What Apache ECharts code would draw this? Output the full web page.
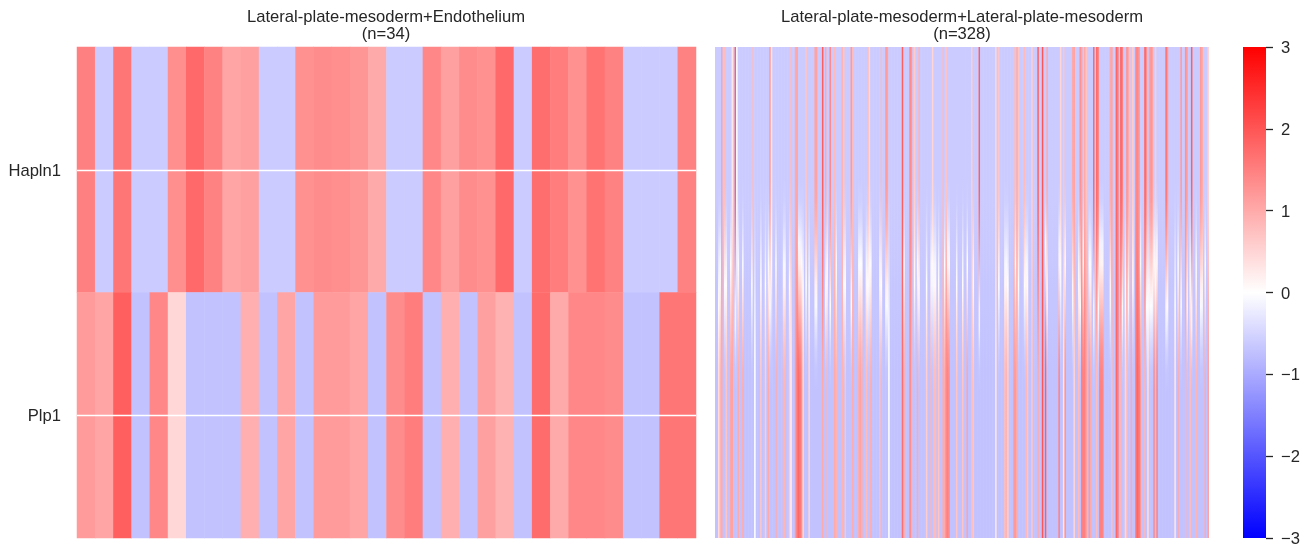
<!DOCTYPE html>
<html><head><meta charset="utf-8">
<style>html,body{margin:0;padding:0;background:#fff}#c{width:1307px;height:557px}</style>
<script src="https://cdn.jsdelivr.net/npm/echarts@6/dist/echarts.min.js"></script>
</head><body><div id="c"></div>
<script>
const genes = ['Hapln1','Plp1'];
const leftTitle = 'Lateral-plate-mesoderm+Endothelium\n(n=34)';
const rightTitle = 'Lateral-plate-mesoderm+Lateral-plate-mesoderm\n(n=328)';
const colorbarTicks = [-3,-2,-1,0,1,2,3];
const leftHapln1 = [1.49,-0.61,1.61,-0.61,-0.61,1.32,1.76,1.47,1.06,1.12,-0.61,-0.61,1.29,1.35,1.33,1.24,1.0,-0.61,-0.61,1.41,1.12,1.35,1.29,1.76,-0.61,1.71,1.53,1.29,1.65,1.47,-0.61,-0.61,-0.61,1.47];
const leftPlp1 = [1.18,1.06,1.88,-0.72,1.41,0.47,-0.72,-0.72,-0.72,0.94,-0.72,1.06,-0.72,1.18,1.18,1.06,-0.72,1.35,1.53,-0.72,0.94,-0.72,1.12,0.91,-0.72,1.73,1.0,1.41,1.41,1.35,-0.72,-0.72,1.61,1.61];
const a = -0.61;
const rightHapln1 = [
a,a,a,a,1.1,a,0.8,a,a,a,
a,0.3,a,1.9,0.0,a,a,a,a,a,
a,a,a,a,0.8,a,a,a,a,a,
a,a,a,a,a,a,1.2,0.3,a,a,
a,a,a,a,a,a,a,a,a,a,
0.8,a,a,1.0,1.1,a,a,a,a,a,
0.7,a,a,a,a,a,1.1,1.1,a,a,
a,1.9,a,1.0,a,a,1.4,a,a,0.8,
a,a,a,a,0.9,0.7,a,a,a,a,
1.2,0.8,a,a,a,a,a,a,a,a,
a,0.8,0.5,a,a,a,a,a,a,a,
0.8,a,a,1.2,1.1,a,a,a,a,a,
a,a,a,a,1.9,a,a,a,a,1.4,
1.2,a,0.6,a,a,0.9,a,a,a,a,
a,a,a,a,0.5,a,a,a,a,a,
a,0.8,a,0.7,a,a,a,a,a,a,
a,a,a,a,a,a,a,a,a,a,
0.6,a,a,a,a,1.9,a,a,a,a,
a,a,a,a,a,a,0.5,a,0.7,a,
a,a,a,a,a,a,a,a,0.8,a,
1.0,0.7,a,a,a,0.8,a,a,a,a,
0.6,a,a,a,1.9,a,a,2.0,a,a,
1.0,a,a,a,a,a,a,a,a,0.5,
a,0.7,a,a,a,a,a,1.0,1.1,a,
a,a,1.3,1.1,a,1.0,0.7,a,a,a,
a,1.8,a,1.8,1.4,a,a,a,a,a,
a,a,1.0,1.1,a,a,1.8,1.6,a,1.9,
1.5,a,a,1.3,1.0,a,0.8,0.6,a,1.4,
1.4,1.3,a,a,a,1.9,1.3,a,1.1,1.3,
1.1,a,0.6,a,a,a,a,a,a,1.7,
1.2,a,a,a,a,a,a,a,a,1.2,
a,a,1.3,1.1,a,a,1.9,a,a,a,
a,a,1.2,1.0,a,a,a,0.5];
const b = -0.72;
const rightPlp1 = [
b,b,0.4,0.9,1.0,b,b,0.7,b,b,
1.1,1.1,b,b,b,1.0,b,b,1.0,b,
b,b,b,b,b,b,0.0,b,b,b,
0.7,b,b,0.6,b,1.0,b,b,b,b,
1.0,b,b,b,b,0.9,0.9,b,b,0.6,
0.2,b,b,1.2,1.6,1.8,1.6,1.3,0.5,b,
b,b,0.5,b,b,b,b,b,b,b,
b,1.0,b,b,0.9,b,b,b,b,1.0,
0.9,b,b,b,0.9,b,0.7,b,b,b,
b,1.0,b,b,b,1.0,1.1,1.0,b,b,
0.8,b,b,1.0,b,b,b,b,b,0.8,
b,b,b,b,b,0.0,b,b,b,b,
b,b,b,b,1.7,1.0,b,b,b,1.4,
1.0,b,b,b,1.0,b,b,b,b,b,
0.6,b,b,0.9,b,0.8,0.8,b,0.7,b,
b,1.0,1.0,1.4,1.5,1.3,b,b,b,b,
0.7,b,b,b,0.7,b,b,1.1,b,b,
0.8,0.7,b,b,b,b,b,b,b,b,
b,b,b,b,b,b,0.3,b,b,b,
b,b,0.8,0.9,0.6,b,b,b,1.2,1.2,
1.0,b,b,b,b,b,0.9,0.7,b,b,
0.7,b,b,b,1.0,b,b,2.0,b,1.9,
b,b,b,b,b,b,b,b,1.5,b,
b,0.3,1.3,b,b,b,b,b,0.5,b,
b,0.8,b,1.5,1.5,1.5,1.1,b,1.2,1.0,
b,b,b,0.8,b,1.5,1.5,1.5,b,b,
b,b,b,0.8,b,b,1.8,1.6,b,0.9,
b,b,0.5,0.8,b,b,1.0,b,b,1.6,
1.8,1.7,1.2,b,b,0.9,b,0.4,b,b,
b,1.4,b,1.5,b,b,b,b,b,b,
b,b,b,b,b,0.3,b,1.0,b,b,
b,b,0.9,b,b,0.8,b,b,b,0.9,
b,b,b,b,b,1.0,b,1.1];

function bwr(v){
  const t = Math.max(-1,Math.min(1,v/3));
  if(t>=0){const g=Math.round(255*(1-t));return `rgb(255,${g},${g})`;}
  const g=Math.round(255*(1+t));return `rgb(${g},${g},255)`;
}
// Vertical blend between the two rows of a column, in value space so that blue-to-red passes through white.
const blendStart = 0.27, blendEnd = 0.70, blendSteps = 10;
function blendStops(top,bottom){
  const stops=[{offset:0,color:bwr(top)}];
  for(let i=0;i<=blendSteps;i++){
    const u=i/blendSteps, s=u*u*(3-2*u);
    stops.push({offset:blendStart+(blendEnd-blendStart)*u,color:bwr(top+(bottom-top)*s)});
  }
  stops.push({offset:1,color:bwr(bottom)});
  return stops;
}
const font = '"Liberation Sans", Arial, sans-serif';
const ink = '#262626';
const leftData = [];
leftHapln1.forEach((v,i)=>leftData.push([i,0,v]));
leftPlp1.forEach((v,i)=>leftData.push([i,1,v]));
const rightData = rightHapln1.map((v,i)=>[i,v,rightPlp1[i]]);
const columns = leftHapln1.map((_,i)=>String(i+1));
const titleStyle = {fontFamily:font,fontSize:16.6,fontWeight:'normal',color:ink,lineHeight:17};

const chart = echarts.init(document.getElementById('c'),null,{renderer:'canvas'});
chart.setOption({
  animation:false,
  backgroundColor:'#fff',
  title:[
    {text:leftTitle,left:381,top:4,textAlign:'center',textStyle:titleStyle},
    {text:rightTitle,left:957,top:4,textAlign:'center',textStyle:titleStyle}
  ],
  grid:[
    {left:77,top:47,width:619,height:491},
    {left:715,top:47,width:494,height:491},
    {left:1243,top:47,width:23,height:491}
  ],
  xAxis:[
    {gridIndex:0,type:'category',data:columns,show:false},
    {gridIndex:1,type:'value',min:0,max:328,show:false},
    {gridIndex:2,type:'value',min:0,max:1,show:false}
  ],
  yAxis:[
    {gridIndex:0,type:'category',data:genes,inverse:true,axisLine:{show:false},axisTick:{show:false},splitLine:{show:false},
     axisLabel:{fontFamily:font,fontSize:16.6,color:ink,margin:16,verticalAlign:'top',lineHeight:3}},
    {gridIndex:1,type:'value',min:0,max:2,inverse:true,show:false},
    {gridIndex:2,type:'value',min:-3,max:3,interval:1,position:'right',axisLine:{show:false,onZero:false},splitLine:{show:false},
     axisTick:{show:true,length:7,lineStyle:{color:ink,width:1.3}},
     axisLabel:{fontFamily:font,fontSize:16.6,color:ink,margin:15,verticalAlign:'top',lineHeight:3,formatter:v=>colorbarTicks.includes(v)?String(v).replace('-','\u2212'):''}}
  ],
  visualMap:{show:false,type:'continuous',min:-3,max:3,seriesIndex:0,dimension:2,inRange:{color:['#0000ff','#ffffff','#ff0000']}},
  series:[
    {type:'heatmap',xAxisIndex:0,yAxisIndex:0,data:leftData,silent:true,
     markLine:{silent:true,symbol:'none',label:{show:false},animation:false,lineStyle:{color:'#fff',width:1.3,type:'solid'},
       data:[{yAxis:'Hapln1'},{yAxis:'Plp1'}]}},
    {type:'custom',xAxisIndex:1,yAxisIndex:1,data:rightData,silent:true,clip:true,
     encode:{x:0,y:[1,2]},
     renderItem(params,api){
       const c=api.value(0);
       const s=api.coord([c,0]), e=api.coord([c+1,2]);
       return {type:'rect',shape:{x:s[0],y:s[1],width:e[0]-s[0]+0.6,height:e[1]-s[1]},
         style:{fill:new echarts.graphic.LinearGradient(0,0,0,1,blendStops(api.value(1),api.value(2)))}};
     }},
    {type:'custom',xAxisIndex:2,yAxisIndex:2,data:[[0,3,-3]],silent:true,
     encode:{x:0,y:[1,2]},
     renderItem(params,api){
       const s=api.coord([0,api.value(1)]), e=api.coord([1,api.value(2)]);
       return {type:'rect',shape:{x:s[0],y:s[1],width:e[0]-s[0],height:e[1]-s[1]},
         style:{fill:new echarts.graphic.LinearGradient(0,0,0,1,[
           {offset:0,color:bwr(3)},{offset:0.5,color:bwr(0)},{offset:1,color:bwr(-3)}])}};
     }}
  ]
});
</script></body></html>
